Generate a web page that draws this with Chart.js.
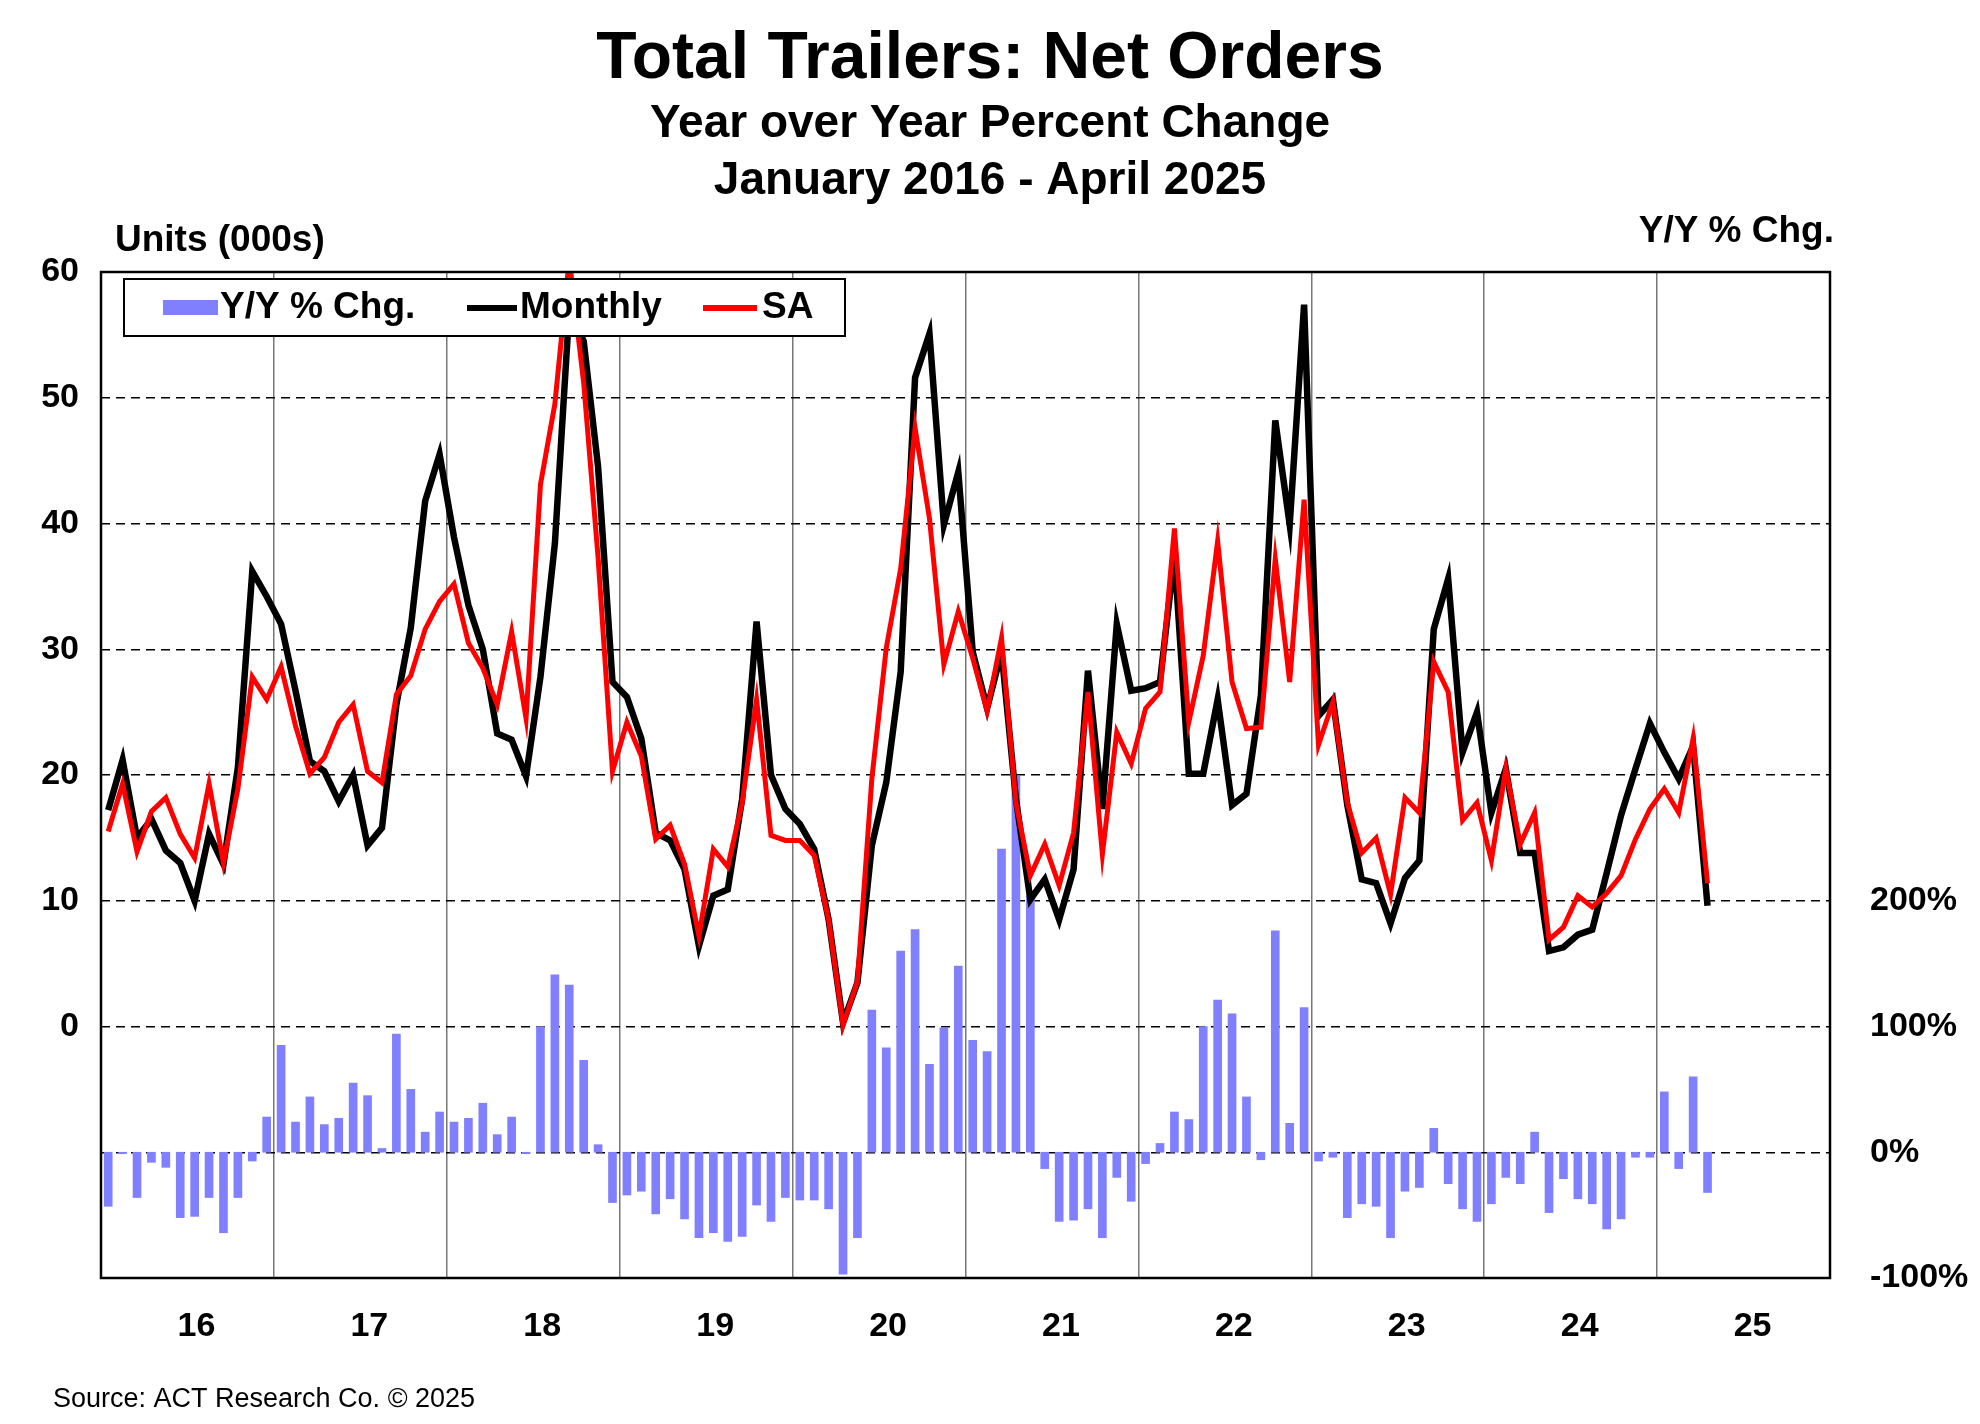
<!DOCTYPE html>
<html>
<head>
<meta charset="utf-8">
<script src="https://cdn.jsdelivr.net/npm/chart.js@4/dist/chart.umd.min.js"></script>
<style>
  html, body { margin: 0; padding: 0; background: #fff; }
  #wrap { width: 1980px; height: 1424px; }
</style>
</head>
<body>
<div id="wrap"><canvas id="c" width="1980" height="1424"></canvas></div>
<script>
// Jan 2016 - Apr 2025, thousands of units
var yearLabels = ['16', '17', '18', '19', '20', '21', '22', '23', '24', '25'];
var monthly = [
  17.2, 21.2, 15.0, 16.5, 14.0, 13.0, 10.0, 15.3, 12.9, 20.6, 36.2, 34.2,
  32.0, 26.7, 21.1, 20.3, 17.9, 20.0, 14.4, 15.8, 25.6, 31.7, 41.8, 45.5,
  38.9, 33.5, 30.0, 23.3, 22.8, 19.9, 27.8, 38.4, 57.0, 54.5, 44.5, 27.4,
  26.2, 22.9, 15.4, 14.8, 12.5, 6.4, 10.4, 10.9, 18.1, 32.2, 20.0, 17.3,
  16.1, 14.1, 8.5, 0.3, 3.5, 14.4, 19.4, 28.2, 51.6, 55.1, 39.9, 44.1,
  29.8, 25.3, 29.8, 18.1, 10.1, 11.7, 8.5, 12.5, 28.3, 17.3, 32.0, 26.7,
  26.9, 27.4, 37.5, 20.1, 20.1, 26.0, 17.6, 18.5, 26.3, 48.2, 39.9, 57.4,
  24.7, 26.0, 17.6, 11.7, 11.4, 8.2, 11.8, 13.2, 31.6, 35.6, 21.8, 25.0,
  17.0, 20.5, 13.8, 13.8, 6.0, 6.3, 7.3, 7.7, 12.2, 16.8, 20.5, 24.1,
  21.8, 19.7, 22.3, 9.6
];
var seasAdj = [
  15.5, 19.3, 13.9, 17.1, 18.2, 15.3, 13.4, 19.3, 13.0, 18.9, 27.8, 26.0,
  28.6, 23.9, 20.1, 21.4, 24.2, 25.6, 20.3, 19.4, 26.4, 27.9, 31.6, 33.8,
  35.2, 30.5, 28.5, 25.6, 31.4, 24.5, 43.1, 49.5, 61.0, 51.2, 37.3, 20.3,
  24.2, 21.5, 14.9, 16.0, 12.9, 7.2, 14.1, 12.7, 17.8, 26.0, 15.2, 14.8,
  14.8, 13.6, 8.5, 0.1, 3.6, 19.7, 30.1, 36.4, 47.6, 40.4, 28.8, 33.0,
  29.3, 25.1, 30.9, 17.8, 12.0, 14.5, 11.2, 15.4, 26.6, 13.7, 23.4, 20.9,
  25.3, 26.6, 39.6, 24.2, 29.5, 38.6, 27.4, 23.7, 23.8, 37.2, 27.4, 41.9,
  22.4, 25.8, 17.8, 13.8, 15.0, 10.5, 18.2, 17.0, 29.0, 26.6, 16.4, 17.8,
  13.2, 20.5, 14.5, 17.0, 6.9, 7.9, 10.4, 9.5, 10.6, 12.0, 14.9, 17.3,
  18.9, 17.0, 22.9, 11.4
];
// percent
var yoyChange = [
  -43, -1, -36, -8, -12, -52, -51, -36, -64, -36, -7, 28,
  85, 24, 44, 22, 27, 55, 45, 3, 94, 50, 16, 32,
  24, 27, 39, 14, 28, -1, 100, 141, 133, 73, 6, -40,
  -34, -31, -49, -37, -53, -68, -64, -71, -67, -42, -55, -36,
  -38, -38, -45, -97, -68, 113, 83, 160, 177, 70, 99, 148,
  89, 80, 241, 299, 204, -13, -55, -54, -45, -68, -20, -39,
  -9, 7, 32, 26, 100, 121, 110, 44, -6, 176, 23, 115,
  -7, -4, -52, -41, -43, -68, -31, -28, 19, -25, -45, -55,
  -41, -20, -25, 16, -48, -21, -37, -41, -61, -53, -4, -4,
  48, -13, 60, -32
];

function pts(arr) {
  return arr.map(function (v, i) { return { x: i + 0.5, y: v }; });
}

var font = 'Liberation Sans, Arial, sans-serif';

var decor = {
  id: 'decor',
  afterDraw: function (chart) {
    var c = chart.ctx, a = chart.chartArea;
    c.save();
    c.strokeStyle = '#000';
    c.lineWidth = 2.5;
    c.strokeRect(a.left, a.top, a.right - a.left, a.bottom - a.top);

    c.fillStyle = '#000';
    c.textAlign = 'center';
    c.textBaseline = 'middle';
    c.font = 'bold 66px ' + font;
    c.fillText('Total Trailers: Net Orders', 990, 60);
    c.font = 'bold 46px ' + font;
    c.fillText('Year over Year Percent Change', 990, 124);
    c.fillText('January 2016 - April 2025', 990, 181);

    c.font = 'bold 37px ' + font;
    c.textAlign = 'left';
    c.fillText('Units (000s)', 115, 241);
    c.textAlign = 'right';
    c.fillText('Y/Y % Chg.', 1834, 232);

    c.font = '27px ' + font;
    c.textAlign = 'left';
    c.fillText('Source: ACT Research Co. \u00a9 2025', 53, 1400);

    // legend
    c.fillStyle = '#fff';
    c.fillRect(124, 279, 721, 57);
    c.strokeStyle = '#000';
    c.lineWidth = 2;
    c.strokeRect(124, 279, 721, 57);
    c.font = 'bold 37px ' + font;
    c.textAlign = 'left';
    c.fillStyle = '#8080ff';
    c.fillRect(163, 300, 55, 15);
    c.fillStyle = '#000';
    c.fillText('Y/Y % Chg.', 220, 308);
    c.strokeStyle = '#000';
    c.lineWidth = 6;
    c.beginPath(); c.moveTo(467, 308); c.lineTo(517, 308); c.stroke();
    c.fillText('Monthly', 520, 308);
    c.strokeStyle = '#ff0000';
    c.beginPath(); c.moveTo(703, 308); c.lineTo(757, 308); c.stroke();
    c.fillText('SA', 762, 308);
    c.restore();
  }
};

var tickFont = { family: font, size: 34, weight: 'bold' };

new Chart(document.getElementById('c').getContext('2d'), {
  type: 'bar',
  data: {
    datasets: [
      {
        type: 'line', label: 'SA', data: pts(seasAdj), yAxisID: 'y',
        borderColor: '#ff0000', borderWidth: 5, pointRadius: 0,
        tension: 0, order: 1
      },
      {
        type: 'line', label: 'Monthly', data: pts(monthly), yAxisID: 'y',
        borderColor: '#000000', borderWidth: 6.5, pointRadius: 0,
        tension: 0, order: 2
      },
      {
        type: 'bar', label: 'Y/Y % Chg.', data: pts(yoyChange), yAxisID: 'y1',
        backgroundColor: '#8080ff', barThickness: 8, order: 3
      }
    ]
  },
  plugins: [decor],
  options: {
    responsive: false,
    animation: false,
    layout: { padding: { top: 272, left: 0, right: 0, bottom: 0 } },
    plugins: { legend: { display: false }, tooltip: { enabled: false } },
    scales: {
      x: {
        type: 'linear', min: 0, max: 120, offset: false,
        afterFit: function (s) { s.height = 146; },
        ticks: {
          stepSize: 6, autoSkip: false, maxRotation: 0, color: '#000',
          font: tickFont, padding: 28, labelOffset: 9,
          callback: function (v) {
            return (v % 12 === 6) ? yearLabels[(v - 6) / 12] : '';
          }
        },
        grid: {
          offset: false,
          drawTicks: false,
          color: function (ctx) {
            var v = ctx.tick && ctx.tick.value;
            return (v > 0 && v < 120 && v % 12 === 0) ? '#777' : 'rgba(0,0,0,0)';
          },
          lineWidth: 1.5
        },
        border: { display: false }
      },
      y: {
        position: 'left', min: -20, max: 60,
        afterFit: function (s) { s.width = 101; },
        ticks: {
          stepSize: 10, color: '#000', font: tickFont, padding: 22,
          callback: function (v) { return v >= 0 ? v : ''; }
        },
        grid: {
          drawTicks: false,
          color: function (ctx) {
            var v = ctx.tick && ctx.tick.value;
            return (v > -20 && v < 60) ? '#000' : 'rgba(0,0,0,0)';
          },
          lineWidth: 1.5
        },
        border: { display: false, dash: [9, 6] }
      },
      y1: {
        position: 'right', min: -100, max: 700,
        afterFit: function (s) { s.width = 150; },
        ticks: {
          stepSize: 100, color: '#000', font: tickFont, padding: 32,
          callback: function (v) { return v <= 200 ? v + '%' : ''; }
        },
        grid: { display: false },
        border: { display: false }
      }
    }
  }
});
</script>
</body>
</html>
